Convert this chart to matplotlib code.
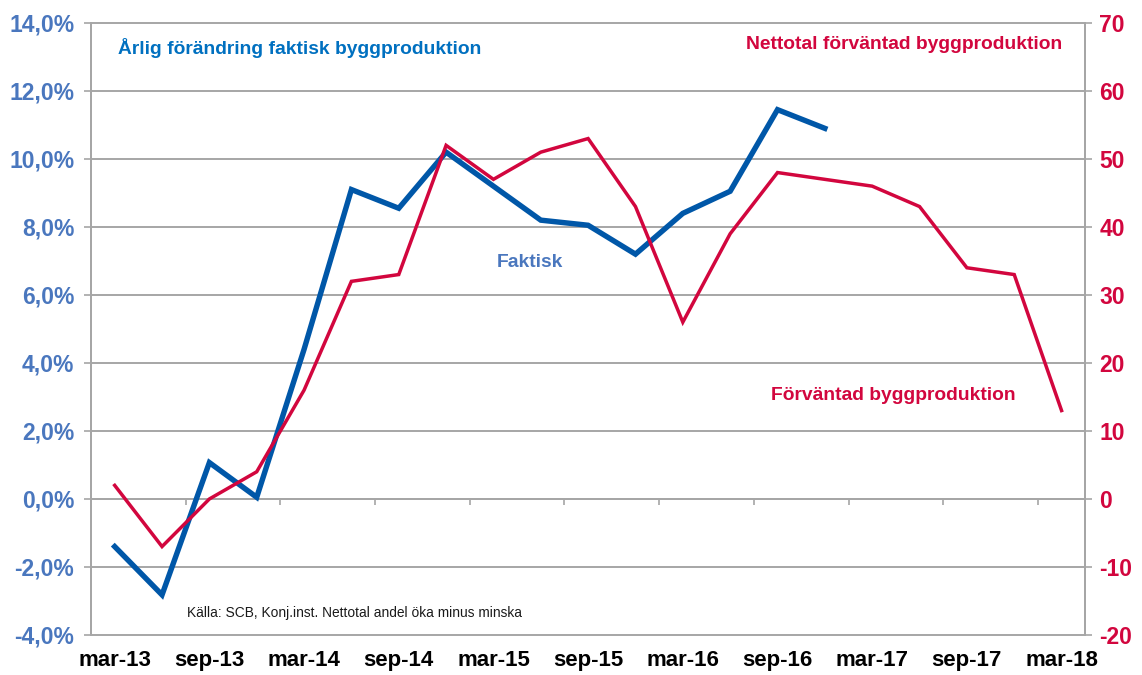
"""Byggproduktion: faktisk årlig förändring mot förväntad nettotal."""
import matplotlib
matplotlib.use("Agg")
import matplotlib.pyplot as plt
import numpy as np

plt.rcParams["font.family"] = ["Liberation Sans", "DejaVu Sans"]

# kvartal mar-13 .. mar-18
quarters = ["mar-13", "jun-13", "sep-13", "dec-13",
            "mar-14", "jun-14", "sep-14", "dec-14",
            "mar-15", "jun-15", "sep-15", "dec-15",
            "mar-16", "jun-16", "sep-16", "dec-16",
            "mar-17", "jun-17", "sep-17", "dec-17",
            "mar-18"]
# årlig förändring faktisk byggproduktion (%), t.o.m. dec-16
faktisk = [-1.4, -2.82, 1.07, 0.05, 4.4, 9.1, 8.55, 10.2,
           9.2, 8.2, 8.05, 7.2, 8.4, 9.05, 11.45, 10.9]
# nettotal förväntad byggproduktion
forvantad = [2, -7, 0, 4, 16, 32, 33, 52, 47, 51, 53, 43,
             26, 39, 48, 47, 46, 43, 34, 33, 13]

left_ticks = [-4, -2, 0, 2, 4, 6, 8, 10, 12, 14]
right_ticks = [-20, -10, 0, 10, 20, 30, 40, 50, 60, 70]

BLUE = "#0057A8"
RED = "#D2063E"
TICK_BLUE = "#4A77BE"
GRID = "#A6A6A6"

x = np.arange(len(quarters))

fig = plt.figure(figsize=(11.42, 6.75), dpi=100)
ax = fig.add_axes([0.0797, 0.0593, 0.8706, 0.9067])
ax2 = ax.twinx()

ax.plot(x[:len(faktisk)], faktisk, color=BLUE, lw=3.9, solid_joinstyle="miter", zorder=3)
ax2.plot(x, forvantad, color=RED, lw=2.5, solid_joinstyle="miter", zorder=3)

ax.set_xlim(-0.5, len(quarters) - 0.5)
ax.set_ylim(left_ticks[0], left_ticks[-1])
ax2.set_ylim(right_ticks[0], right_ticks[-1])

# rutnät
ax.set_yticks(left_ticks)
ax.set_yticklabels([f"{v:.1f}%".replace(".", ",") for v in left_ticks])
ax.grid(axis="y", color=GRID, lw=1.4)
ax.set_axisbelow(True)
for gl in ax.yaxis.get_gridlines():
    gl.set_clip_on(False)

ax.tick_params(axis="y", direction="out", length=5, width=1.2, color=GRID,
               labelsize=16.5, labelcolor=TICK_BLUE, pad=7)
for lbl in ax.get_yticklabels():
    lbl.set_fontweight("bold")

ax2.set_yticks(right_ticks)
ax2.set_yticklabels([str(v) for v in right_ticks])
ax2.tick_params(axis="y", direction="out", length=5, width=1.2, color=GRID,
                labelsize=16.5, labelcolor=RED, pad=5)
for lbl in ax2.get_yticklabels():
    lbl.set_fontweight("bold")

# x-axeln ligger vid 0 med streck mellan varannan kategori
ax.spines["bottom"].set_position(("data", 0))
ax.set_xticks([])
ax.set_xticks(np.arange(-0.5, len(quarters) - 1, 2), minor=True)
ax.tick_params(axis="x", which="minor", direction="out", length=4, width=1.2,
               color=GRID, labelbottom=False)

for a in (ax, ax2):
    a.spines["top"].set_visible(False)
    for s in ("left", "right", "bottom"):
        a.spines[s].set_color(GRID)
        a.spines[s].set_linewidth(1.4)
ax2.spines["bottom"].set_visible(False)

# kategorietiketter längst ned
sec = ax.secondary_xaxis("bottom")
sec.set_xticks(x[::2])
sec.set_xticklabels(quarters[::2])
sec.tick_params(length=0, labelsize=16, pad=11)
sec.spines["bottom"].set_visible(False)
for lbl in sec.get_xticklabels():
    lbl.set_fontweight("bold")

ax.text(0.027, 0.959, "Årlig förändring faktisk byggproduktion", transform=ax.transAxes,
        color="#0070C0", fontsize=13.9, fontweight="bold", va="center", ha="left")
ax.text(0.977, 0.964, "Nettotal förväntad byggproduktion", transform=ax.transAxes,
        color=RED, fontsize=13.9, fontweight="bold", va="center", ha="right")
ax.text(0.408, 0.609, "Faktisk", transform=ax.transAxes,
        color=TICK_BLUE, fontsize=13.9, fontweight="bold", va="center", ha="left")
ax.text(0.684, 0.392, "Förväntad byggproduktion", transform=ax.transAxes,
        color=RED, fontsize=13.9, fontweight="bold", va="center", ha="left")
ax.text(0.0966, 0.036, "Källa: SCB, Konj.inst. Nettotal andel öka minus minska",
        transform=ax.transAxes, color="#1A1A1A", fontsize=9.9, va="center", ha="left")

fig.savefig("out.png", dpi=100)
plt.close(fig)
